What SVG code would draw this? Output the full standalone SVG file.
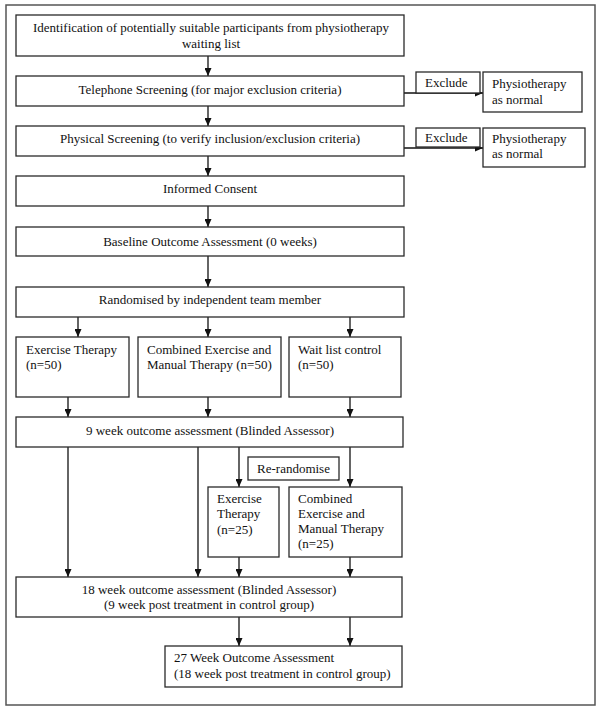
<svg xmlns="http://www.w3.org/2000/svg" width="600" height="711" viewBox="0 0 600 711">
<defs>
<marker id="ah" viewBox="0 0 8 7" refX="8" refY="3.5" markerWidth="8" markerHeight="7" markerUnits="userSpaceOnUse" orient="auto">
<path d="M0,0 L8,3.5 L0,7 z" fill="#111"/>
</marker>
</defs>
<style>
.b{fill:#fff;stroke:#2a2a2a;stroke-width:1.3}
.t{font-family:"Liberation Serif","Times New Roman",serif;font-size:13px;fill:#111}
.c{text-anchor:middle}
.l{fill:none;stroke:#111;stroke-width:1.3;marker-end:url(#ah)}
</style>
<rect x="0" y="0" width="600" height="711" fill="#fff"/>
<rect x="6" y="5" width="589" height="700" fill="none" stroke="#555" stroke-width="1.5"/>

<g id="connectors">
<line class="l" x1="208" y1="56" x2="208" y2="76"/>
<line class="l" x1="208" y1="106" x2="208" y2="126"/>
<line class="l" x1="208" y1="156" x2="208" y2="176"/>
<line class="l" x1="208" y1="206" x2="208" y2="227"/>
<line class="l" x1="208" y1="256" x2="208" y2="287"/>
<line class="l" x1="404" y1="93" x2="483" y2="93"/>
<line class="l" x1="404" y1="148" x2="483" y2="148"/>
<line class="l" x1="78" y1="317" x2="78" y2="337"/>
<line class="l" x1="208" y1="317" x2="208" y2="337"/>
<line class="l" x1="350" y1="317" x2="350" y2="337"/>
<line class="l" x1="68" y1="397" x2="68" y2="417"/>
<line class="l" x1="208" y1="397" x2="208" y2="417"/>
<line class="l" x1="350" y1="397" x2="350" y2="417"/>
<line class="l" x1="68" y1="447" x2="68" y2="577"/>
<line class="l" x1="198" y1="447" x2="198" y2="577"/>
<line class="l" x1="239" y1="447" x2="239" y2="487"/>
<line class="l" x1="350" y1="447" x2="350" y2="487"/>
<line class="l" x1="239" y1="557" x2="239" y2="577"/>
<line class="l" x1="350" y1="557" x2="350" y2="577"/>
<line class="l" x1="239" y1="617" x2="239" y2="646"/>
<line class="l" x1="350" y1="617" x2="350" y2="646"/>
</g>

<g id="identification">
<rect class="b" x="16" y="15" width="388" height="41"/>
<text class="t c" x="211" y="32">Identification of potentially suitable participants from physiotherapy</text>
<text class="t c" x="211" y="48">waiting list</text>
</g>
<g id="telephone">
<rect class="b" x="16" y="76" width="388" height="30"/>
<text class="t c" x="210" y="94">Telephone Screening (for major exclusion criteria)</text>
</g>
<g id="exclude1">
<rect class="b" x="416" y="72" width="64" height="21"/>
<text class="t" x="425" y="87">Exclude</text>
</g>
<g id="physio1">
<rect class="b" x="483" y="72" width="99" height="40"/>
<text class="t" x="492" y="88">Physiotherapy</text>
<text class="t" x="492" y="104">as normal</text>
</g>
<g id="physical">
<rect class="b" x="16" y="126" width="388" height="30"/>
<text class="t c" x="210" y="143">Physical Screening (to verify inclusion/exclusion criteria)</text>
</g>
<g id="exclude2">
<rect class="b" x="416" y="128" width="64" height="19"/>
<text class="t" x="425" y="142">Exclude</text>
</g>
<g id="physio2">
<rect class="b" x="483" y="128" width="102" height="39"/>
<text class="t" x="492" y="143">Physiotherapy</text>
<text class="t" x="492" y="158">as normal</text>
</g>
<g id="consent">
<rect class="b" x="16" y="176" width="388" height="30"/>
<text class="t c" x="210" y="193">Informed Consent</text>
</g>
<g id="baseline">
<rect class="b" x="16" y="227" width="388" height="29"/>
<text class="t c" x="210" y="246">Baseline Outcome Assessment (0 weeks)</text>
</g>
<g id="randomised">
<rect class="b" x="16" y="287" width="388" height="30"/>
<text class="t c" x="210" y="304">Randomised by independent team member</text>
</g>
<g id="exercise50">
<rect class="b" x="16" y="337" width="113" height="60"/>
<text class="t" x="26" y="354">Exercise Therapy</text>
<text class="t" x="26" y="369">(n=50)</text>
</g>
<g id="combined50">
<rect class="b" x="138" y="337" width="143" height="60"/>
<text class="t" x="147" y="354">Combined Exercise and</text>
<text class="t" x="147" y="369">Manual Therapy (n=50)</text>
</g>
<g id="waitlist">
<rect class="b" x="289" y="337" width="112" height="60"/>
<text class="t" x="298" y="354">Wait list control</text>
<text class="t" x="298" y="369">(n=50)</text>
</g>
<g id="week9">
<rect class="b" x="16" y="417" width="387" height="30"/>
<text class="t c" x="210" y="435">9 week outcome assessment (Blinded Assessor)</text>
</g>
<g id="rerandomise">
<rect class="b" x="248" y="457" width="91" height="23"/>
<text class="t c" x="293.5" y="473">Re-randomise</text>
</g>
<g id="exercise25">
<rect class="b" x="208" y="487" width="71" height="70"/>
<text class="t" x="217" y="503">Exercise</text>
<text class="t" x="217" y="518">Therapy</text>
<text class="t" x="217" y="534">(n=25)</text>
</g>
<g id="combined25">
<rect class="b" x="289" y="487" width="113" height="70"/>
<text class="t" x="298" y="503">Combined</text>
<text class="t" x="298" y="518">Exercise and</text>
<text class="t" x="298" y="533">Manual Therapy</text>
<text class="t" x="298" y="548">(n=25)</text>
</g>
<g id="week18">
<rect class="b" x="16" y="577" width="386" height="40"/>
<text class="t c" x="209" y="594">18 week outcome assessment (Blinded Assessor)</text>
<text class="t c" x="209" y="609">(9 week post treatment in control group)</text>
</g>
<g id="week27">
<rect class="b" x="165" y="646" width="237" height="41"/>
<text class="t" x="174" y="662">27 Week Outcome Assessment</text>
<text class="t" x="174" y="678">(18 week post treatment in control group)</text>
</g>
</svg>
